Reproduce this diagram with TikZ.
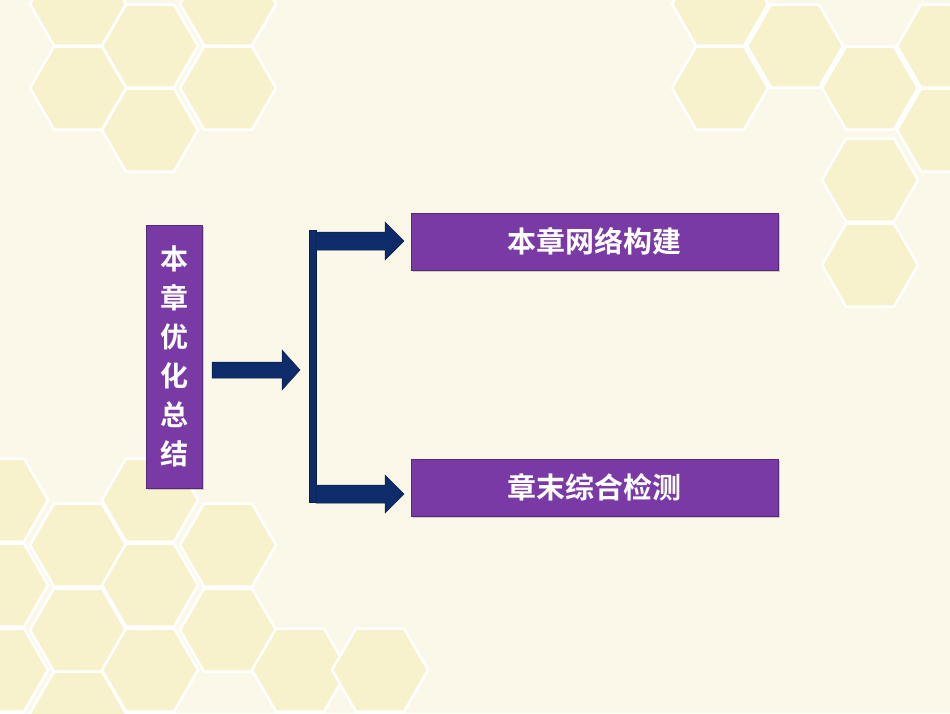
\documentclass[tikz,border=0pt]{standalone}
\usepackage{fontspec}
\newfontfamily\cjk{Noto Sans CJK SC Bold}
\usetikzlibrary{shadows}
\begin{document}
\begin{tikzpicture}[x=1pt,y=-1pt,
  hexa/.style={fill=#1,draw=white,line width=2.5pt},
  pbox/.style={fill=boxp,draw=boxp!70!black,line width=0.6pt,drop shadow={opacity=0.35,shadow xshift=2pt,shadow yshift=-2pt}},
  btxt/.style={text=white,font=\cjk\fontsize{29}{32}\selectfont},
  navy/.style={fill=navyc,draw=navyc!70!black,line width=0.5pt}]
\definecolor{bg}{HTML}{FBF8E9}
\definecolor{hx}{HTML}{F7F1CC}
\definecolor{boxp}{HTML}{7A3AA6}
\definecolor{navyc}{HTML}{0F2C6A}
\fill[bg] (0,0) rectangle (950,713);
\useasboundingbox (0,0) rectangle (950,713);
\newcommand{\hx}[2]{\draw[hexa=hx,shift={(#1,#2)}] (48,0) -- (24,41.5) -- (-24,41.5) -- (-48,0) -- (-24,-41.5) -- (24,-41.5) -- cycle;}
% top-left
\hx{78}{88}\hx{150}{46}\hx{150}{130}\hx{228}{88}\hx{78}{4}\hx{228}{4}
% top-right
\hx{720}{88}\hx{795}{46}\hx{870}{88}\hx{870}{180}\hx{870}{265}\hx{720}{4}\hx{945}{46}\hx{945}{130}
% bottom-left
\hx{0}{500}\hx{78}{545}\hx{150}{500}\hx{150}{585}\hx{228}{545}\hx{0}{585}\hx{78}{630}\hx{228}{630}\hx{150}{670}\hx{0}{670}\hx{78}{713}\hx{300}{670}\hx{380}{670}
% left box
\node[pbox,minimum width=56pt,minimum height=263pt,inner sep=0pt] (L) at (174,356.5) {};
\node[btxt,align=center,font=\cjk\fontsize{28}{39}\selectfont] at (L) {本\\章\\优\\化\\总\\结};
% right boxes
\node[pbox,minimum width=367pt,minimum height=57pt,inner sep=0pt] (A) at (594.5,241.5) {};
\node[btxt] at (A) {本章网络构建};
\node[pbox,minimum width=367pt,minimum height=57pt,inner sep=0pt] (B) at (594.5,487.5) {};
\node[btxt] at (B) {章末综合检测};
% middle arrow
\draw[navy] (212,362) -- (282,362) -- (282,350) -- (300,370) -- (282,390) -- (282,378) -- (212,378) -- cycle;
% bracket
\draw[navy] (309,230) rectangle (316,502);
\draw[navy] (316,232) -- (385,232) -- (385,222) -- (404,241) -- (385,260) -- (385,250) -- (316,250) -- cycle;
\draw[navy] (316,485) -- (385,485) -- (385,475) -- (404,494) -- (385,513) -- (385,503) -- (316,503) -- cycle;
\end{tikzpicture}
\end{document}
